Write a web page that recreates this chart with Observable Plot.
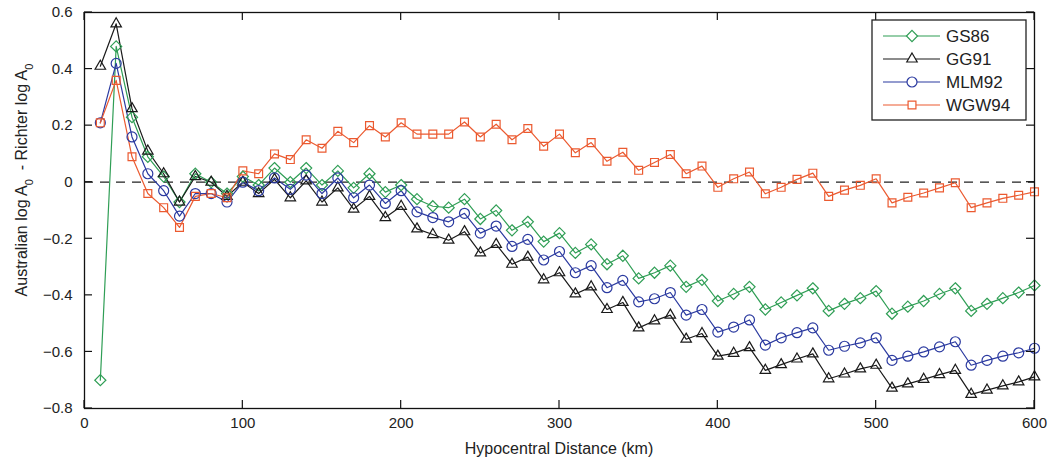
<!DOCTYPE html>
<html><head><meta charset="utf-8">
<script src="https://cdn.jsdelivr.net/npm/d3@7"></script>
<script src="https://cdn.jsdelivr.net/npm/@observablehq/plot@0.6"></script>
<style>
body{margin:0;background:#fff;}
#wrap{position:relative;width:1049px;height:462px;}
</style></head><body><div id="wrap"></div>
<script>
const distance = [10,20,30,40,50,60,70,80,90,100,110,120,130,140,150,160,170,180,190,200,
 210,220,230,240,250,260,270,280,290,300,310,320,330,340,350,360,370,380,390,400,
 410,420,430,440,450,460,470,480,490,500,510,520,530,540,550,560,570,580,590,600];
const gs86 = [-0.70,0.48,0.23,0.09,0.02,-0.07,0.03,0.00,-0.04,0.02,-0.01,0.05,0.00,0.05,-0.01,0.04,-0.02,0.03,-0.035,-0.01,
 -0.06,-0.085,-0.09,-0.06,-0.13,-0.10,-0.17,-0.14,-0.21,-0.18,-0.25,-0.22,-0.29,-0.26,-0.34,-0.32,-0.295,-0.37,-0.345,-0.42,
 -0.395,-0.37,-0.45,-0.425,-0.40,-0.375,-0.455,-0.43,-0.41,-0.385,-0.465,-0.44,-0.42,-0.395,-0.375,-0.455,-0.43,-0.41,-0.39,-0.365];
const gg91 = [0.41,0.56,0.26,0.11,0.03,-0.07,0.02,0.00,-0.05,0.00,-0.04,0.01,-0.055,0.005,-0.07,-0.02,-0.095,-0.05,-0.125,-0.085,
 -0.165,-0.185,-0.205,-0.175,-0.25,-0.22,-0.29,-0.265,-0.345,-0.32,-0.395,-0.37,-0.45,-0.425,-0.515,-0.49,-0.47,-0.555,-0.535,-0.615,
 -0.605,-0.585,-0.665,-0.645,-0.625,-0.607,-0.695,-0.678,-0.66,-0.647,-0.728,-0.713,-0.697,-0.68,-0.665,-0.75,-0.735,-0.72,-0.706,-0.688];
const mlm92 = [0.21,0.42,0.16,0.03,-0.03,-0.12,-0.04,-0.04,-0.07,0.00,-0.03,0.015,-0.025,0.025,-0.04,0.015,-0.055,-0.01,-0.075,-0.03,
 -0.105,-0.125,-0.14,-0.11,-0.18,-0.155,-0.227,-0.202,-0.275,-0.245,-0.32,-0.295,-0.373,-0.347,-0.423,-0.412,-0.39,-0.47,-0.45,-0.53,
 -0.512,-0.487,-0.576,-0.55,-0.532,-0.515,-0.594,-0.58,-0.568,-0.55,-0.63,-0.615,-0.60,-0.582,-0.564,-0.647,-0.63,-0.615,-0.603,-0.587];
const wgw94 = [0.21,0.36,0.09,-0.04,-0.09,-0.16,-0.05,-0.04,-0.055,0.04,0.03,0.10,0.08,0.15,0.12,0.18,0.14,0.20,0.16,0.21,
 0.17,0.17,0.17,0.213,0.16,0.205,0.15,0.19,0.127,0.17,0.104,0.14,0.074,0.106,0.042,0.07,0.098,0.03,0.057,-0.018,
 0.012,0.036,-0.041,-0.018,0.01,0.032,-0.05,-0.028,-0.011,0.012,-0.073,-0.053,-0.038,-0.02,-0.002,-0.09,-0.073,-0.057,-0.046,-0.034];

const seriesNames = ["GS86","GG91","MLM92","WGW94"];
const seriesColors = ["#2f9e55","#1a1a1a","#2b3aa0","#eb5a30"];
const seriesSymbols = ["diamond2","triangle2","circle","square2"];
const xTicks = [0,100,200,300,400,500,600];
const yTicks = [-0.8,-0.6,-0.4,-0.2,0,0.2,0.4,0.6];
const xLabel = "Hypocentral Distance (km)";

const seriesValues = [gs86, gg91, mlm92, wgw94];
const rows = [];
seriesNames.forEach((name, i) => {
  distance.forEach((d, j) => rows.push({series: name, d, v: seriesValues[i][j]}));
});

const FONT = "'Liberation Sans', Arial, sans-serif";
const W = 1049, H = 462, ML = 84, MR = 15, MT = 12, MB = 54, TK = 8;
const plot = Plot.plot({
  width: W, height: H,
  marginLeft: ML, marginRight: MR, marginTop: MT, marginBottom: MB,
  x: {domain: [0, 600]},
  y: {domain: [-0.8, 0.6]},
  color: {domain: seriesNames, range: seriesColors},
  symbol: {domain: seriesNames, range: seriesSymbols},
  style: {fontFamily: FONT, fontSize: "15px", color: "#222", background: "white"},
  marks: [
    Plot.ruleY([0], {stroke: "#222", strokeDasharray: "9,7", strokeWidth: 1.3}),
    Plot.line(rows, {x: "d", y: "v", z: "series", stroke: "series", strokeWidth: 1.2}),
    Plot.dot(rows, {x: "d", y: "v", stroke: "series", symbol: "series", r: 5, strokeWidth: 1.2, fill: "none"}),
    Plot.frame({stroke: "#111", strokeWidth: 1.3}),
    Plot.axisX(xTicks, {anchor: "bottom", tickSize: 0, tickPadding: 9, label: null, tickFormat: d => d3.format("d")(d)}),
    Plot.axisY(yTicks, {anchor: "left", tickSize: 0, tickPadding: 12, label: null, tickFormat: d => d === 0 ? "0" : d3.format(".1f")(d)})
  ]
});
document.getElementById("wrap").appendChild(plot);

const svg = d3.select(plot);
const sx = plot.scale("x"), sy = plot.scale("y");
const fTop = MT, fBottom = H - MB, fLeft = ML, fRight = W - MR;
// inward tick marks on all four sides (positions from Plot's scales)
const tg = svg.append("g").attr("stroke", "#111").attr("stroke-width", 1.2);
xTicks.forEach(t => {
  const px = sx.apply(t);
  tg.append("line").attr("x1", px).attr("x2", px).attr("y1", fBottom).attr("y2", fBottom - TK);
  tg.append("line").attr("x1", px).attr("x2", px).attr("y1", fTop).attr("y2", fTop + TK);
});
yTicks.forEach(t => {
  const py = sy.apply(t);
  tg.append("line").attr("y1", py).attr("y2", py).attr("x1", fLeft).attr("x2", fLeft + TK);
  tg.append("line").attr("y1", py).attr("y2", py).attr("x1", fRight).attr("x2", fRight - TK);
});

// X axis label
svg.append("text").attr("x", (fLeft + fRight) / 2).attr("y", 454).attr("text-anchor", "middle")
  .attr("font-family", FONT).attr("font-size", 16).attr("fill", "#222").text(xLabel);
// Y axis label with subscripts
const yl = svg.append("text").attr("transform", "translate(27,180) rotate(-90)")
  .attr("text-anchor", "middle").attr("font-family", FONT).attr("font-size", 16).attr("fill", "#222");
yl.append("tspan").text("Australian log A");
yl.append("tspan").attr("baseline-shift", "sub").attr("font-size", 11).text("0");
yl.append("tspan").text("  - Richter log A");
yl.append("tspan").attr("baseline-shift", "sub").attr("font-size", 11).text("0");

// Legend
const lg = svg.append("g").attr("transform", "translate(872,20)");
lg.append("rect").attr("width", 154).attr("height", 100).attr("fill", "white").attr("stroke", "#222").attr("stroke-width", 1.3);
const symMap = {diamond2: d3.symbolDiamond2, triangle2: d3.symbolTriangle2, circle: d3.symbolCircle, square2: d3.symbolSquare2};
seriesNames.forEach((name, i) => {
  const y = 16 + i * 23;
  lg.append("line").attr("x1", 11).attr("x2", 68).attr("y1", y).attr("y2", y)
    .attr("stroke", seriesColors[i]).attr("stroke-width", 1.2);
  lg.append("path").attr("transform", `translate(40,${y})`)
    .attr("d", d3.symbol(symMap[seriesSymbols[i]], Math.PI * 25)())
    .attr("fill", "white").attr("stroke", seriesColors[i]).attr("stroke-width", 1.2);
  lg.append("text").attr("x", 74).attr("y", y).attr("dy", "0.35em").attr("text-anchor", "start")
    .attr("font-family", FONT).attr("font-size", 17).attr("fill", "#222").text(name);
});
</script></body></html>
